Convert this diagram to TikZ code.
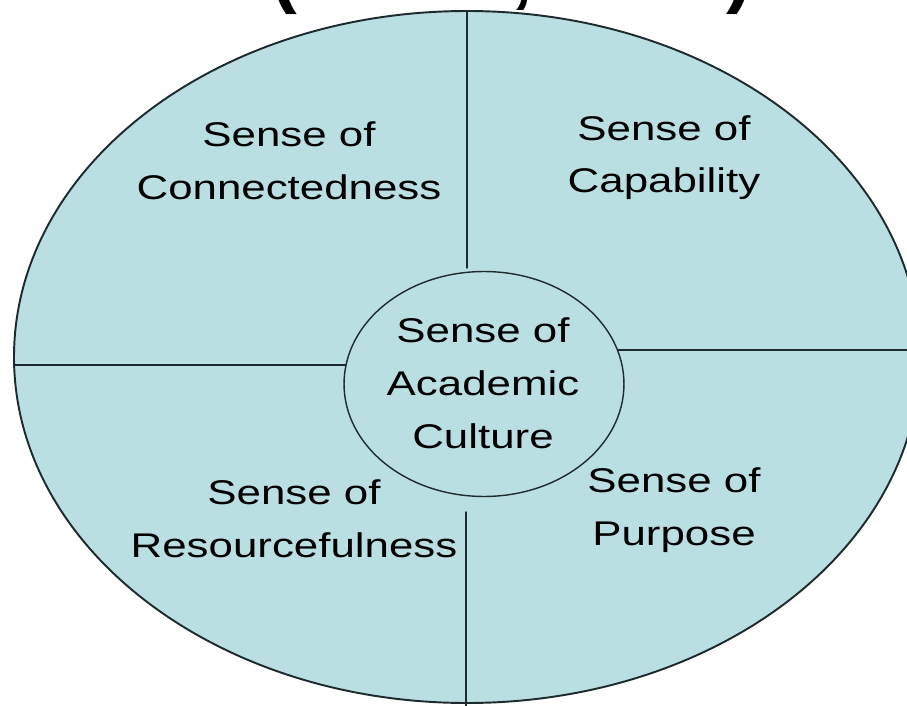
\documentclass[tikz,border=0pt]{standalone}
\usepackage{fontspec}
\setmainfont{Liberation Sans}
\newfontfamily\widefont[FakeStretch=1.28]{Liberation Sans}
\usepackage{xcolor}
\usetikzlibrary{shapes.geometric,positioning}
\definecolor{paleblue}{HTML}{BADFE2}
\definecolor{edgegray}{HTML}{1E2B2E}

\begin{document}
\begin{tikzpicture}[x=0.02cm,y=-0.02cm,line cap=round,line join=round,
  sense/.style={font=\widefont\fontsize{19.5}{30}\selectfont,align=center,anchor=base,inner sep=0pt},
  divider/.style={draw=edgegray,line width=0.8pt},
  core/.style={ellipse,draw=edgegray,fill=paleblue,line width=0.8pt,inner sep=0pt,
    minimum width=5.6cm,minimum height=4.5cm}]
\useasboundingbox (0,0) rectangle (907,706);
\clip (0,0) rectangle (907,706);
% title line, cut off by the top edge
\node[font=\bfseries\fontsize{44}{50}\selectfont,anchor=base,inner sep=0pt] (title) at (512,-1) {(Lizzio, 2006)};
% outer ellipse
\draw[draw=edgegray,fill=paleblue,line width=1.1pt] (467,357) ellipse [x radius=453, y radius=346];
% dividers
\coordinate (topend) at (467,11);
\coordinate (topstop) at (467,268);
\coordinate (leftend) at (14,365);
\coordinate (leftstop) at (346,365);
\coordinate (rightstop) at (617,350);
\coordinate (rightend) at (910,350);
\coordinate (lowstop) at (466,512);
\coordinate (lowend) at (466,710);
\draw[divider] (topend) -- (topstop);
\draw[divider] (leftend) -- (leftstop);
\draw[divider] (rightstop) -- (rightend);
\draw[divider] (lowstop) -- (lowend);
% centre (base = last line)
\node[core] (core) at (484,384) {};
\node[sense] (academic) at (483,448) {Sense of\\Academic\\Culture};
% four quadrants
\node[sense] (connect) at (289,199) {Sense of\\Connectedness};
\node[sense] (capable) at (664,193) {Sense of\\Capability};
\node[sense] (resource) at (294,557) {Sense of\\Resourcefulness};
\node[sense] (purpose) at (674,545) {Sense of\\Purpose};
\end{tikzpicture}
\end{document}
